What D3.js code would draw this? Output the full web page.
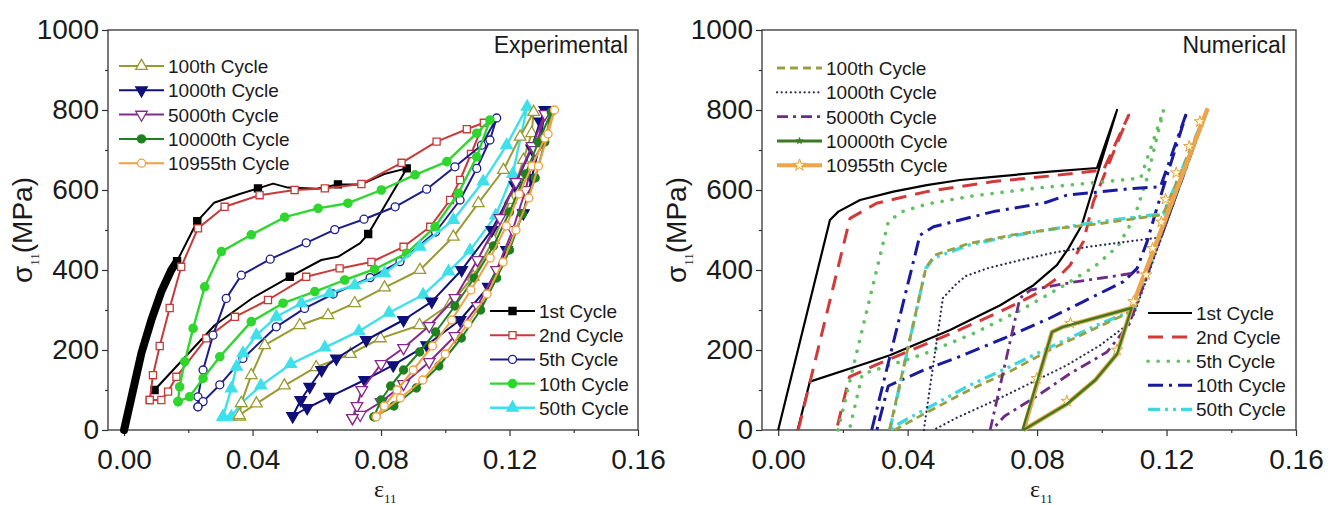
<!DOCTYPE html>
<html>
<head>
<meta charset="utf-8">
<script src="https://cdn.jsdelivr.net/npm/d3@7"></script>
<style>
  body { margin: 0; background: #fff; }
  svg text { font-family: "Liberation Sans", Arial, sans-serif; fill: #1a1a1a; }
</style>
</head>
<body>
<svg id="chart" width="1337" height="505"></svg>
<script>
// ---------- data (strain eps11, stress sigma11 in MPa) ----------
const X_TICKS = [0, 0.04, 0.08, 0.12, 0.16];
const X_MINOR = [0.02, 0.06, 0.10, 0.14];
const Y_TICKS = [0, 200, 400, 600, 800, 1000];
const Y_MINOR = [100, 300, 500, 700, 900];

const cycleNames = ["1st Cycle", "2nd Cycle", "5th Cycle", "10th Cycle", "50th Cycle",
                    "100th Cycle", "1000th Cycle", "5000th Cycle", "10000th Cycle", "10955th Cycle"];

// experimental
const exp1stDense = [[0,0],[0.0054,192],[0.0085,275],[0.0116,346],[0.0147,400],[0.0165,422]];
const exp1st = [[0,0],[0.0054,192],[0.0085,275],[0.0116,346],[0.0147,400],[0.0165,422],[0.0228,522],
  [0.028,568],[0.036,590],[0.0417,604],[0.0464,616],[0.051,606],[0.06,603],[0.0666,614],[0.0738,614],
  [0.081,640],[0.088,654],[0.076,490],[0.0735,467],[0.0666,433],[0.0614,425],[0.0516,383],[0.04,330],
  [0.0282,262],[0.0095,100]];
const exp1stMarks = [[0.0165,422],[0.0228,522],[0.0417,604],[0.0666,614],[0.088,654],[0.076,490],
  [0.0516,383],[0.0095,100]];
const exp2nd = [[0.008,75],[0.009,137],[0.0111,210],[0.0142,305],[0.0178,408],[0.023,504],[0.0313,558],
  [0.0422,587],[0.0531,600],[0.0625,604],[0.0739,615],[0.0864,668],[0.0973,721],[0.1067,752],[0.112,768],
  [0.108,690],[0.1046,625],[0.1015,575],[0.0953,508],[0.087,458],[0.077,420],[0.0671,404],[0.0567,383],
  [0.0448,325],[0.0345,283],[0.0256,229],[0.0163,133],[0.0137,96],[0.0116,75],[0.008,75]];
const exp5th = [[0.023,58],[0.023,83],[0.0246,150],[0.0277,237],[0.0318,329],[0.0365,387],[0.0455,427],
  [0.0567,468],[0.0656,501],[0.0747,527],[0.0844,558],[0.0942,602],[0.103,658],[0.1113,712],[0.116,780],
  [0.1139,725],[0.1098,654],[0.1046,575],[0.097,495],[0.0859,421],[0.0766,381],[0.0651,340],[0.0562,304],
  [0.0474,258],[0.037,179],[0.0298,113],[0.0246,71],[0.023,58]];
const exp10th = [[0.0168,71],[0.0173,108],[0.0189,171],[0.0215,254],[0.0251,358],[0.0303,446],[0.0396,488],
  [0.05,532],[0.0604,554],[0.0697,567],[0.0801,600],[0.0906,638],[0.1005,671],[0.1098,742],[0.1139,775],
  [0.1098,683],[0.1041,592],[0.0968,508],[0.088,442],[0.078,402],[0.0687,375],[0.0594,346],[0.0495,317],
  [0.0396,271],[0.0298,183],[0.0246,129],[0.0204,83],[0.0168,71]];
const exp50th = [[0.0308,33],[0.0334,104],[0.035,158],[0.037,192],[0.0412,237],[0.0474,283],[0.0552,317],
  [0.064,342],[0.0718,362],[0.0811,392],[0.0921,458],[0.1025,525],[0.1118,621],[0.1191,712],[0.1255,808],
  [0.121,640],[0.1157,536],[0.1077,449],[0.101,396],[0.0931,338],[0.0825,293],[0.0731,247],[0.0625,206],
  [0.0519,165],[0.0426,111],[0.0365,67],[0.0334,33],[0.0308,33]];
const exp100th = [[0.036,33],[0.0365,67],[0.0396,137],[0.0438,212],[0.0547,262],[0.0635,287],[0.0718,317],
  [0.0811,356],[0.0921,400],[0.1025,483],[0.1103,567],[0.1181,650],[0.1233,733],[0.1275,795],[0.1269,742],
  [0.1243,675],[0.1202,575],[0.115,475],[0.1087,383],[0.1015,315],[0.092,262],[0.0798,229],[0.0705,190],
  [0.0598,157],[0.0499,111],[0.0412,66],[0.0359,37]];
const exp1000th = [[0.0525,35],[0.055,75],[0.0578,108],[0.0615,150],[0.0661,179],[0.0754,225],[0.087,275],
  [0.0958,321],[0.1051,400],[0.1145,500],[0.1217,612],[0.1269,704],[0.1295,771],[0.131,800],[0.1295,717],
  [0.1269,630],[0.1243,542],[0.1191,450],[0.1134,358],[0.1046,275],[0.0942,212],[0.0838,162],[0.0749,125],
  [0.064,83],[0.057,55],[0.0525,35]];
const exp5000th = [[0.0711,30],[0.0725,60],[0.074,100],[0.08,165],[0.087,205],[0.095,260],[0.103,330],
  [0.11,425],[0.117,530],[0.122,620],[0.127,710],[0.131,790],[0.128,700],[0.125,600],[0.121,500],[0.116,400],
  [0.11,310],[0.103,235],[0.095,170],[0.087,115],[0.08,70],[0.0735,38],[0.0711,30]];
const exp10000th = [[0.0778,33],[0.08,75],[0.083,110],[0.087,150],[0.092,195],[0.097,245],[0.103,310],
  [0.109,380],[0.115,460],[0.12,545],[0.125,640],[0.129,720],[0.133,795],[0.131,720],[0.128,630],[0.124,540],
  [0.12,450],[0.116,380],[0.111,300],[0.105,230],[0.098,160],[0.091,105],[0.084,60],[0.0778,33]];
const exp10955th = [[0.0785,33],[0.081,60],[0.085,100],[0.09,150],[0.096,210],[0.102,275],[0.108,350],
  [0.114,430],[0.119,510],[0.123,590],[0.127,660],[0.131,730],[0.134,800],[0.132,740],[0.129,660],[0.126,580],
  [0.122,500],[0.118,420],[0.113,340],[0.107,265],[0.1,190],[0.093,125],[0.086,80],[0.0785,33]];

// numerical
const num1st = [[0,0],[0.016,525],[0.0186,546],[0.0253,575],[0.0356,596],[0.0459,612],[0.0562,625],
  [0.0665,633],[0.084,646],[0.0985,655],[0.1047,800],[0.0938,512],[0.0897,454],[0.0861,412],[0.0789,362],
  [0.0686,312],[0.0531,250],[0.0345,187],[0.0253,162],[0.0098,121],[0.006,0]];
const num2nd = [[0.0062,0],[0.0222,529],[0.0304,567],[0.0459,596],[0.0665,621],[0.084,635],[0.1005,650],
  [0.1083,787],[0.0974,571],[0.0943,471],[0.0902,412],[0.0861,379],[0.0789,337],[0.0686,296],[0.0531,240],
  [0.0412,200],[0.03,162],[0.022,133],[0.018,0]];
const num5th = [[0.0185,0],[0.034,520],[0.038,545],[0.046,565],[0.06,585],[0.08,605],[0.1,620],[0.112,630],
  [0.1191,800],[0.114,630],[0.11,530],[0.105,460],[0.098,410],[0.088,360],[0.075,300],[0.06,240],[0.045,190],
  [0.03,150],[0.026,140],[0.022,0]];
const num10th = [[0.0289,0],[0.0438,487],[0.048,508],[0.0562,525],[0.0665,546],[0.082,567],[0.0892,587],
  [0.1098,604],[0.1181,608],[0.1263,796],[0.117,554],[0.114,471],[0.1109,404],[0.1067,371],[0.0943,321],
  [0.084,280],[0.07,230],[0.055,180],[0.045,150],[0.034,110],[0.0305,0]];
const num50th = [[0.0345,0],[0.0456,404],[0.048,430],[0.0588,462],[0.072,485],[0.0853,503],[0.0985,520],
  [0.113,535],[0.119,540],[0.1325,800],[0.11,300],[0.0985,262],[0.0853,212],[0.072,160],[0.0588,110],
  [0.045,50],[0.036,10],[0.035,0]];
const num100th = [[0.0344,0],[0.0456,404],[0.0483,437],[0.0588,466],[0.072,487],[0.0853,503],[0.0985,515],
  [0.117,536],[0.119,540],[0.1325,800],[0.11,300],[0.0985,256],[0.0853,206],[0.072,148],[0.0588,99],
  [0.045,40],[0.036,0]];
const num1000th = [[0.045,0],[0.0509,330],[0.055,365],[0.058,385],[0.065,405],[0.075,425],[0.085,443],
  [0.095,457],[0.105,468],[0.1185,482],[0.1325,800],[0.11,290],[0.1077,262],[0.0995,212],[0.0892,162],
  [0.0789,121],[0.0686,80],[0.055,30],[0.048,0]];
const num5000th = [[0.0655,0],[0.0747,330],[0.078,350],[0.09,368],[0.1,380],[0.108,390],[0.1135,398],
  [0.1325,800],[0.1085,265],[0.1016,195],[0.09,140],[0.08,85],[0.07,35],[0.066,0]];
const num10000th = [[0.0755,0],[0.0846,245],[0.088,258],[0.1092,305],[0.1047,190],[0.098,125],[0.0892,65],
  [0.0758,0]];
const num10955th = [[0.0758,0],[0.0846,245],[0.088,258],[0.1092,305],[0.1325,800],[0.1092,305],[0.1047,190],
  [0.098,125],[0.0892,65],[0.0758,0]];
const num10955Marks = [[0.0799,129],[0.0903,267],[0.1098,321],[0.1047,200],[0.0892,72],[0.1137,388],
  [0.1157,454],[0.1184,520],[0.1197,577],[0.123,643],[0.127,709],[0.1303,771]];

// ---------- drawing ----------
const svg = d3.select("#chart");

const symbols = {
  square: d3.symbolSquare, circle: d3.symbolCircle, triUp: d3.symbolTriangle,
  triDown: d3.symbolTriangle, star: d3.symbolStar
};

function marker(g, kind, size, color, fill, px, py, sw) {
  g.append("path")
    .attr("d", d3.symbol(symbols[kind], size)())
    .attr("transform", `translate(${px},${py})` + (kind === "triDown" ? " rotate(180)" : ""))
    .attr("fill", fill)
    .attr("stroke", color)
    .attr("stroke-width", sw || 1.3);
}

function panel(opts) {
  const g = svg.append("g");
  const x = d3.scaleLinear().domain([-0.005, 0.16]).range([opts.left, opts.right]);
  const y = d3.scaleLinear().domain([0, 1000]).range([opts.bottom, opts.top]);

  // axes
  const xa = g.append("g").attr("transform", `translate(0,${opts.bottom})`)
    .call(d3.axisBottom(x).tickValues(X_TICKS).tickFormat(d3.format(".2f")).tickSize(6).tickPadding(13).tickSizeOuter(0));
  g.append("g").attr("transform", `translate(0,${opts.bottom})`)
    .call(d3.axisBottom(x).tickValues(X_MINOR).tickFormat("").tickSize(3).tickSizeOuter(0));
  const ya = g.append("g").attr("transform", `translate(${opts.left},0)`)
    .call(d3.axisLeft(y).tickValues(Y_TICKS).tickFormat(d3.format("d")).tickSize(6).tickPadding(3).tickSizeOuter(0));
  g.append("g").attr("transform", `translate(${opts.left},0)`)
    .call(d3.axisLeft(y).tickValues(Y_MINOR).tickFormat("").tickSize(3).tickSizeOuter(0));
  g.selectAll(".domain").remove();
  g.selectAll(".tick line").attr("stroke", "#333").attr("stroke-width", 1.2);
  xa.selectAll("text").style("font-size", "28px").attr("fill", "#1a1a1a");
  ya.selectAll("text").style("font-size", "28px").attr("fill", "#1a1a1a");

  g.append("rect")
    .attr("x", opts.left).attr("y", opts.top)
    .attr("width", opts.right - opts.left).attr("height", opts.bottom - opts.top)
    .attr("fill", "none").attr("stroke", "#333").attr("stroke-width", 1.3);

  // axis titles
  const xt = g.append("text").attr("x", (x(0) + x(0.16)) / 2 - 7).attr("y", 497)
    .style("font-family", "'Liberation Serif', 'Times New Roman', serif").style("font-size", "24px");
  xt.append("tspan").text("ε");
  xt.append("tspan").attr("dy", 6).style("font-size", "13px").text("11");

  const yt = g.append("text").attr("transform", `translate(${opts.left - 76},${(opts.top + opts.bottom) / 2}) rotate(-90)`)
    .attr("text-anchor", "middle").style("font-size", "28px");
  yt.append("tspan").text("σ");
  yt.append("tspan").attr("dy", 7).style("font-size", "13px").style("font-family", "'Liberation Serif', serif").text("11");
  yt.append("tspan").attr("dy", -7).text("(MPa)");

  g.append("text").attr("x", opts.right - 10).attr("y", opts.top + 23)
    .attr("text-anchor", "end").style("font-size", "23px").text(opts.title);

  const plot = g.append("g");
  const line = d3.line().x(d => x(d[0])).y(d => y(d[1]));

  opts.series.forEach(s => {
    if (s.thick) {
      plot.append("path").attr("d", line(s.thick)).attr("fill", "none")
        .attr("stroke", s.color).attr("stroke-width", 8).attr("stroke-linecap", "round");
    }
    plot.append("path").attr("d", line(s.data)).attr("fill", "none")
      .attr("stroke", s.color).attr("stroke-width", s.width)
      .attr("stroke-dasharray", s.dash || null)
      .attr("stroke-linecap", s.cap || "butt")
      .attr("stroke-linejoin", "round");
    if (s.marker) {
      (s.marks || s.data).forEach(d => marker(plot, s.marker, s.msize, s.mstroke || s.color, s.fill, x(d[0]), y(d[1]), s.msw));
    }
  });

  // legends
  opts.legends.forEach(L => {
    L.items.forEach((s, i) => {
      const ly = L.y + i * L.step;
      g.append("line").attr("x1", L.x).attr("x2", L.x + L.len).attr("y1", ly).attr("y2", ly)
        .attr("stroke", s.color).attr("stroke-width", s.lw || s.width)
        .attr("stroke-dasharray", s.dash || null).attr("stroke-linecap", s.cap || "butt");
      if (s.marker) marker(g, s.marker, s.msize, s.mstroke || s.color, s.fill, L.x + L.len / 2, ly, s.msw);
      g.append("text").attr("x", L.x + L.len + 4).attr("y", ly + 7).style("font-size", "19px").text(s.name);
    });
  });
}

// experimental series styles
const expSeries = [
  { name: cycleNames[0], data: exp1st, thick: exp1stDense, marks: exp1stMarks, color: "#000", width: 2, marker: "square", msize: 50, fill: "#000" },
  { name: cycleNames[1], data: exp2nd, color: "#c83a3a", width: 2, marker: "square", msize: 50, fill: "#fff" },
  { name: cycleNames[2], data: exp5th, color: "#1c1c8e", width: 2, marker: "circle", msize: 50, fill: "#fff" },
  { name: cycleNames[3], data: exp10th, color: "#2ed62e", width: 2.4, marker: "circle", msize: 54, fill: "#2ed62e" },
  { name: cycleNames[4], data: exp50th, color: "#3ee0ea", width: 2.4, marker: "triUp", msize: 58, fill: "#3ee0ea" },
  { name: cycleNames[5], data: exp100th, color: "#9a9a30", width: 2, marker: "triUp", msize: 58, fill: "#fff" },
  { name: cycleNames[6], data: exp1000th, color: "#10107a", width: 2, marker: "triDown", msize: 58, fill: "#10107a" },
  { name: cycleNames[7], data: exp5000th, color: "#86288e", width: 2, marker: "triDown", msize: 58, fill: "#fff" },
  { name: cycleNames[8], data: exp10000th, color: "#1e801e", width: 2, marker: "circle", msize: 50, fill: "#1e801e" },
  { name: cycleNames[9], data: exp10955th, color: "#f0a040", width: 2, marker: "circle", msize: 50, fill: "#fff" }
];

panel({
  left: 108, right: 638, top: 30, bottom: 430, title: "Experimental",
  series: expSeries,
  legends: [
    { x: 119, y: 66, step: 24.3, len: 45, items: expSeries.slice(5) },
    { x: 490, y: 311, step: 24.2, len: 45, items: expSeries.slice(0, 5) }
  ]
});

// numerical series styles
const numSeries = [
  { name: cycleNames[0], data: num1st, color: "#000", width: 2.2 },
  { name: cycleNames[1], data: num2nd, color: "#d23a3a", width: 3, dash: "15,9" },
  { name: cycleNames[2], data: num5th, color: "#62c062", width: 3.6, dash: "0.1,10", cap: "round" },
  { name: cycleNames[3], data: num10th, color: "#1a1a9e", width: 3, dash: "15,6,3,6" },
  { name: cycleNames[4], data: num50th, color: "#3fd8df", width: 3.4, dash: "12,5,3,5,3,5" },
  { name: cycleNames[5], data: num100th, color: "#9aa040", width: 2.8, dash: "8,5" },
  { name: cycleNames[6], data: num1000th, color: "#2a2a55", width: 2.2, dash: "0.1,4.5", cap: "round" },
  { name: cycleNames[7], data: num5000th, color: "#6e2d85", width: 2.8, dash: "11,5,3,5" },
  { name: cycleNames[9], data: num10955th, marks: num10955Marks, color: "#eca54a", width: 4.5, marker: "star", msize: 40, fill: "#fff8d0", mstroke: "#e0a040", msw: 1 },
  { name: cycleNames[8], data: num10000th, color: "#3a7a22", width: 2.4, marker: null }
];
const numLegendTop = [numSeries[5], numSeries[6], numSeries[7],
  { name: cycleNames[8], color: "#3a7a22", width: 3, marker: "star", msize: 16, fill: "#3a7a22", msw: 0.5 },
  { name: cycleNames[9], color: "#eca54a", width: 4, marker: "star", msize: 45, fill: "#fff8d0", mstroke: "#e0a040", msw: 1 }];

panel({
  left: 762, right: 1296, top: 30, bottom: 430, title: "Numerical",
  series: numSeries,
  legends: [
    { x: 777, y: 68, step: 24.3, len: 45, items: numLegendTop },
    { x: 1148, y: 313, step: 24.1, len: 44, items: numSeries.slice(0, 5) }
  ]
});
</script>
</body>
</html>
